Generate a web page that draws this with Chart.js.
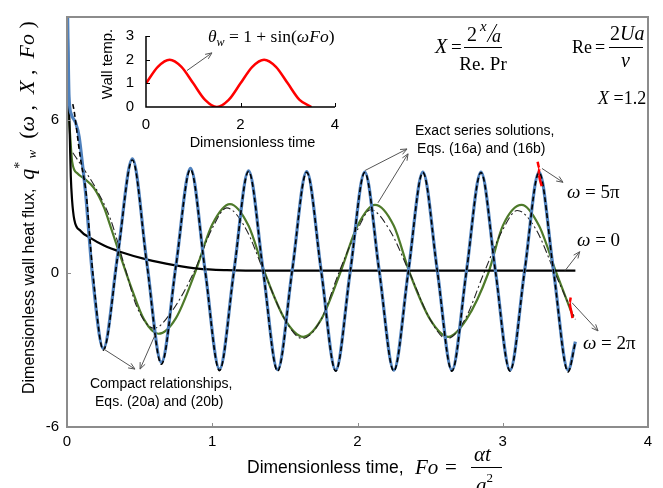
<!DOCTYPE html>
<html lang="en">
<head>
<meta charset="UTF-8">
<title>Dimensionless wall heat flux</title>
<style>
  * { margin: 0; padding: 0; box-sizing: border-box; }
  body { width: 663px; height: 488px; background: #fff; overflow: hidden; position: relative; }
  #main { position: absolute; left: 0; top: 0; width: 663px; height: 488px; }
  #inset { position: absolute; left: 90px; top: 15px; width: 260px; height: 140px; }
</style>
</head>
<body>
<div id="main"><canvas id="mainChart"></canvas></div>
<div id="inset"><canvas id="insetChart"></canvas></div>

<script src="https://cdn.jsdelivr.net/npm/chart.js"></script>
<script>
  // omega = 5*pi, exact series (blue)
  const foBlue = [0.003, 0.014, 0.03, 0.06, 0.083, 0.105, 0.129, 0.151, 0.174,
    0.25, 0.35, 0.45, 0.55, 0.65, 0.75, 0.85, 0.95, 1.05, 1.15, 1.25, 1.35, 1.45, 1.55, 1.65, 1.75,
    1.85, 1.95, 2.05, 2.15, 2.25, 2.35, 2.45, 2.55, 2.65, 2.75, 2.85, 2.95, 3.05, 3.15, 3.25, 3.35, 3.45, 3.5];
  const qBlue = [10.5, 6.9, 6.2, 5.86, 5.35, 4.33, 3.06, 1.53, 0,
    -2.94, 0.76, 4.46, 0.4, -3.48, 0.3, 4.09, 0.15, -3.74, 0.12, 4.0, 0.12, -3.76, 0.1, 3.97, 0.1,
    -3.78, 0.08, 3.95, 0.08, -3.78, 0.08, 3.95, 0.08, -3.78, 0.08, 3.95, 0.08, -3.78, 0.08, 3.95, 0.08, -3.78, -2.67];

  // omega = 5*pi, compact relationship (black dashed)
  const foDash = [0.04, 0.05, 0.08, 0.095, 0.133, 0.155, 0.178,
    0.25, 0.35, 0.45, 0.55, 0.65, 0.75, 0.85, 0.95, 1.05, 1.15, 1.25, 1.35, 1.45, 1.55, 1.65, 1.75,
    1.85, 1.95, 2.05, 2.15, 2.25, 2.35, 2.45, 2.55, 2.65, 2.75, 2.85, 2.95, 3.05, 3.15, 3.25, 3.35, 3.45, 3.5];
  const qDash = [6.6, 6.3, 5.0, 4.4, 3.06, 1.53, 0,
    -3.0, 0.7, 4.42, 0.35, -3.55, 0.28, 4.05, 0.14, -3.8, 0.1, 3.97, 0.1, -3.82, 0.08, 3.94, 0.08,
    -3.82, 0.06, 3.93, 0.06, -3.82, 0.06, 3.93, 0.06, -3.82, 0.06, 3.93, 0.06, -3.82, 0.06, 3.93, 0.06, -3.85, -2.7];

  // omega = 2*pi, exact series (green)
  const foGreen = [0.003, 0.007, 0.014, 0.036, 0.071, 0.117, 0.186, 0.255, 0.301, 0.346, 0.392, 0.439,
    0.53, 0.629, 0.75, 0.88, 1.0, 1.122, 1.25, 1.363, 1.5, 1.627, 1.75, 1.88, 2.0, 2.12, 2.25, 2.36,
    2.5, 2.625, 2.75, 2.9, 3.0, 3.13, 3.25, 3.37, 3.486];
  const qGreen = [7.5, 6.4, 6.0, 4.33, 3.9, 3.7, 3.32, 2.56, 1.8, 1.03, 0.27, -0.5,
    -1.8, -2.36, -1.75, 0, 1.9, 2.7, 1.85, 0, -1.8, -2.48, -1.8, 0, 1.85, 2.67, 1.85, 0,
    -1.8, -2.48, -1.8, 0, 1.85, 2.67, 1.85, 0, -1.72];

  // omega = 2*pi, compact relationship (black dash-dot)
  const foDashDot = [0.04, 0.1, 0.2, 0.3, 0.4, 0.48, 0.6, 0.72, 0.87, 1.0, 1.1, 1.23, 1.36, 1.5, 1.62,
    1.75, 1.87, 2.0, 2.09, 2.22, 2.36, 2.5, 2.615, 2.74, 2.87, 3.0, 3.1, 3.23, 3.36, 3.5];
  const qDashDot = [4.7, 4.2, 3.3, 2.1, 0.2, -1.3, -2.15, -1.5, 0, 1.75, 2.55, 1.75, 0, -1.8, -2.55,
    -1.8, 0, 1.7, 2.48, 1.7, 0, -1.8, -2.56, -1.8, 0, 1.7, 2.45, 1.7, 0, -1.8];

  // omega = 0 (black solid)
  const foZero = [0.003, 0.012, 0.02, 0.026, 0.035, 0.05, 0.094, 0.163, 0.255, 0.37, 0.553, 0.737, 0.9, 1.1, 1.4, 2.0, 3.5];
  const qZero = [10.5, 7.0, 5.2, 3.8, 2.85, 2.1, 1.65, 1.37, 1.08, 0.83, 0.53, 0.32, 0.18, 0.12, 0.1, 0.1, 0.1];

  // small red brackets
  const foRedA = [3.24, 3.252, 3.246, 3.258, 3.268];
  const qRedA = [4.35, 4.1, 3.85, 3.6, 3.4];
  const foRedB = [3.468, 3.46, 3.466, 3.474, 3.48];
  const qRedB = [-0.95, -1.15, -1.35, -1.55, -1.75];

  const yTicks = [-6, 0, 6];

  // inset: wall temperature
  const insetT = [0, 0.25, 0.5, 0.75, 1, 1.25, 1.5, 1.75, 2, 2.25, 2.5, 2.75, 3, 3.25, 3.5];
  const insetTheta = [1, 1.7, 2, 1.7, 1, 0.3, 0, 0.3, 1, 1.7, 2, 1.7, 1, 0.3, 0];

  const SANS = '"Liberation Sans", Arial, sans-serif';
  const SERIF = '"Liberation Serif", "Times New Roman", serif';

  const pts = (xs, ys) => xs.map((x, i) => ({ x: x, y: ys[i] }));

  function line(data, color, width, dash) {
    return {
      data: data, borderColor: color, borderWidth: width, borderDash: dash || [],
      pointRadius: 0, fill: false, cubicInterpolationMode: 'monotone'
    };
  }

  function runs(ctx, x, y, parts) {
    parts.forEach(p => {
      ctx.font = p[1];
      ctx.fillText(p[0], x, y + (p[2] || 0));
      x += ctx.measureText(p[0]).width;
    });
    return x;
  }

  function arrow(ctx, x1, y1, x2, y2) {
    const a = Math.atan2(y2 - y1, x2 - x1), h = 7;
    ctx.beginPath();
    ctx.moveTo(x1, y1); ctx.lineTo(x2, y2);
    ctx.moveTo(x2 - h * Math.cos(a - 0.4), y2 - h * Math.sin(a - 0.4));
    ctx.lineTo(x2, y2);
    ctx.lineTo(x2 - h * Math.cos(a + 0.4), y2 - h * Math.sin(a + 0.4));
    ctx.stroke();
  }

  const arrows = [
    [2.052, 4.01, 2.341, 4.85], [2.141, 2.75, 2.348, 4.66],
    [0.248, -2.94, 0.468, -3.74], [0.606, -2.41, 0.503, -3.74],
    [3.27, 4.09, 3.415, 3.55], [3.43, 0.11, 3.53, 0.84], [3.477, -1.15, 3.656, -2.25],
    [0.826, 7.91, 0.998, 8.6]
  ];
  const notes = [
    ['Exact series solutions,', 2.396, 5.54], ['Eqs. (16a) and (16b)', 2.41, 4.85],
    ['Compact relationships,', 0.158, -4.32], ['Eqs. (20a) and (20b)', 0.193, -5.04]
  ];
  const omegas = [[' = 5\u03c0', 3.442, 3.13], [' = 0', 3.511, 1.26], [' = 2\u03c0', 3.552, -2.75]];

  const decor = {
    id: 'decor',
    afterDraw(chart) {
      const ctx = chart.ctx, a = chart.chartArea;
      const sx = chart.scales.x, sy = chart.scales.y;
      ctx.save();
      // frame
      ctx.strokeStyle = '#8c8c8c'; ctx.lineWidth = 2;
      ctx.strokeRect(a.left, a.top, a.right - a.left, a.bottom - a.top);
      ctx.lineWidth = 1;
      [1, 2, 3].forEach(v => {
        const x = Math.round(sx.getPixelForValue(v)) + 0.5;
        ctx.beginPath(); ctx.moveTo(x, a.bottom); ctx.lineTo(x, a.bottom - 4); ctx.stroke();
      });
      [0, 6].forEach(v => {
        const y = Math.round(sy.getPixelForValue(v)) + 0.5;
        ctx.beginPath(); ctx.moveTo(a.left, y); ctx.lineTo(a.left + 4, y); ctx.stroke();
      });

      // arrows
      ctx.strokeStyle = '#555'; ctx.lineWidth = 1;
      arrows.forEach(r => arrow(ctx, sx.getPixelForValue(r[0]), sy.getPixelForValue(r[1]),
        sx.getPixelForValue(r[2]), sy.getPixelForValue(r[3])));

      ctx.fillStyle = '#000';
      ctx.textBaseline = 'middle'; ctx.textAlign = 'left';
      ctx.font = '14px ' + SANS;
      notes.forEach(n => ctx.fillText(n[0], sx.getPixelForValue(n[1]), sy.getPixelForValue(n[2])));
      omegas.forEach(o => runs(ctx, sx.getPixelForValue(o[1]), sy.getPixelForValue(o[2]), [
        ['\u03c9', 'italic 19px ' + SERIF], [o[0], '19px ' + SERIF]
      ]));

      ctx.textBaseline = 'alphabetic';
      // inset formula
      runs(ctx, 208, 42, [
        ['\u03b8', 'italic 17.5px ' + SERIF], ['w', 'italic 12px ' + SERIF, 4],
        [' = 1 + sin(', '17.5px ' + SERIF], ['\u03c9Fo', 'italic 17.5px ' + SERIF], [')', '17.5px ' + SERIF]
      ]);

      // X = (2 x/a)/(Re.Pr)
      runs(ctx, 435, 53, [['X', 'italic 20px ' + SERIF]]);
      runs(ctx, 451, 53, [['=', '19px ' + SERIF]]);
      ctx.fillRect(464, 47, 38, 1);
      runs(ctx, 467, 41, [['2', '20px ' + SERIF]]);
      runs(ctx, 480, 31, [['x', 'italic 15px ' + SERIF]]);
      ctx.beginPath(); ctx.strokeStyle = '#000'; ctx.moveTo(487, 42); ctx.lineTo(497, 24); ctx.stroke();
      runs(ctx, 492, 42, [['a', 'italic 18px ' + SERIF]]);
      ctx.textAlign = 'center';
      runs(ctx, 483, 70, [['Re. Pr', '19px ' + SERIF]]);
      ctx.textAlign = 'left';
      // Re = 2Ua / nu
      runs(ctx, 572, 53, [['Re', '18px ' + SERIF]]);
      runs(ctx, 595, 53, [['=', '18px ' + SERIF]]);
      ctx.fillRect(609, 47, 34, 1);
      runs(ctx, 610, 40, [['2', '20px ' + SERIF], ['Ua', 'italic 20px ' + SERIF]]);
      runs(ctx, 621, 67, [['\u03bd', 'italic 20px ' + SERIF]]);
      // X = 1.2
      runs(ctx, 598, 104, [['X', 'italic 18px ' + SERIF], [' =1.2', '18px ' + SERIF]]);

      // x axis title
      runs(ctx, 247, 473, [['Dimensionless time,', '17.5px ' + SANS]]);
      runs(ctx, 415, 474, [['Fo', 'italic 21px ' + SERIF]]);
      runs(ctx, 445, 474, [['=', '21px ' + SERIF]]);
      ctx.fillRect(471, 467, 31, 1);
      runs(ctx, 474, 461, [['\u03b1t', 'italic 21px ' + SERIF]]);
      runs(ctx, 476, 492, [['a', 'italic 21px ' + SERIF], ['2', '13px ' + SERIF, -10]]);

      // y axis title
      ctx.translate(34, 394);
      ctx.rotate(-Math.PI / 2);
      runs(ctx, 0, 0, [
        ['Dimensionless wall heat flux,', '16px ' + SANS], ['  ', '16px ' + SANS],
        ['q', 'italic 22px ' + SERIF], ['*', '14px ' + SERIF, -10], [' w', 'italic 13px ' + SERIF, 2],
        ['  (', '22px ' + SERIF], ['\u03c9', 'italic 22px ' + SERIF], [' ,  ', '22px ' + SERIF],
        ['X', 'italic 22px ' + SERIF], [' ,  ', '22px ' + SERIF], ['Fo', 'italic 22px ' + SERIF],
        [' )', '22px ' + SERIF]
      ]);
      ctx.restore();
    }
  };

  new Chart(document.getElementById('mainChart').getContext('2d'), {
    type: 'line',
    data: {
      datasets: [
        line(pts(foRedA, qRedA), '#ff0000', 2.5),
        line(pts(foRedB, qRedB), '#ff0000', 2.5),
        line(pts(foDash, qDash), '#000', 1.6, [5, 3]),
        line(pts(foBlue, qBlue), '#4f81bd', 3.2),
        line(pts(foZero, qZero), '#000', 2.2),
        line(pts(foDashDot, qDashDot), '#222', 1.1, [8, 3, 2, 3]),
        line(pts(foGreen, qGreen), '#4e7a2a', 2.2)
      ]
    },
    options: {
      responsive: true,
      maintainAspectRatio: false,
      devicePixelRatio: 1,
      animation: false,
      layout: { padding: { top: 9, right: 15, left: 0, bottom: 0 } },
      plugins: { legend: { display: false }, tooltip: { enabled: false } },
      scales: {
        x: {
          type: 'linear', min: 0, max: 4,
          grid: { display: false, drawTicks: false }, border: { display: false },
          ticks: { stepSize: 1, padding: 6, color: '#000', font: { size: 15, family: SANS } },
          afterFit: s => { s.height = 61; }
        },
        y: {
          min: -6, max: 10,
          grid: { display: false, drawTicks: false }, border: { display: false },
          ticks: { padding: 8, color: '#000', font: { size: 15, family: SANS } },
          afterBuildTicks: s => { s.ticks = yTicks.map(v => ({ value: v })); },
          afterFit: s => { s.width = 67; }
        }
      }
    },
    plugins: [decor]
  });

  const insetDecor = {
    id: 'insetDecor',
    afterDraw(chart) {
      const ctx = chart.ctx, a = chart.chartArea;
      const sx = chart.scales.x, sy = chart.scales.y;
      ctx.save();
      ctx.strokeStyle = '#000'; ctx.lineWidth = 1.5;
      ctx.beginPath();
      ctx.moveTo(a.left, a.top); ctx.lineTo(a.left, a.bottom); ctx.lineTo(a.right, a.bottom);
      ctx.stroke();
      ctx.lineWidth = 1;
      [1, 2, 3].forEach(v => {
        const y = Math.round(sy.getPixelForValue(v)) + 0.5;
        ctx.beginPath(); ctx.moveTo(a.left, y); ctx.lineTo(a.left + 4, y); ctx.stroke();
      });
      [2, 4].forEach(v => {
        const x = Math.round(sx.getPixelForValue(v)) + 0.5;
        ctx.beginPath(); ctx.moveTo(x, a.bottom); ctx.lineTo(x, a.bottom - 4); ctx.stroke();
      });
      ctx.fillStyle = '#000';
      ctx.textAlign = 'center'; ctx.textBaseline = 'middle';
      ctx.font = '14.5px ' + SANS;
      ctx.fillText('Dimensionless time', (a.left + a.right) / 2 + 12, 128);
      ctx.translate(18, 49);
      ctx.rotate(-Math.PI / 2);
      ctx.font = '15px ' + SANS;
      ctx.fillText('Wall temp.', 0, 0);
      ctx.restore();
    }
  };

  new Chart(document.getElementById('insetChart').getContext('2d'), {
    type: 'line',
    data: { datasets: [line(pts(insetT, insetTheta), '#ff0000', 2.5)] },
    options: {
      responsive: true,
      maintainAspectRatio: false,
      devicePixelRatio: 1,
      animation: false,
      layout: { padding: { top: 10, right: 15, left: 0, bottom: 0 } },
      plugins: { legend: { display: false }, tooltip: { enabled: false } },
      scales: {
        x: {
          type: 'linear', min: 0, max: 4,
          grid: { display: false, drawTicks: false }, border: { display: false },
          ticks: { stepSize: 2, padding: 9, color: '#000', font: { size: 15, family: SANS } },
          afterFit: s => { s.height = 48; }
        },
        y: {
          min: 0, max: 3,
          grid: { display: false, drawTicks: false }, border: { display: false },
          ticks: { stepSize: 1, padding: 12, color: '#000', font: { size: 15, family: SANS } },
          afterFit: s => { s.width = 56; }
        }
      }
    },
    plugins: [insetDecor]
  });
</script>
</body>
</html>
